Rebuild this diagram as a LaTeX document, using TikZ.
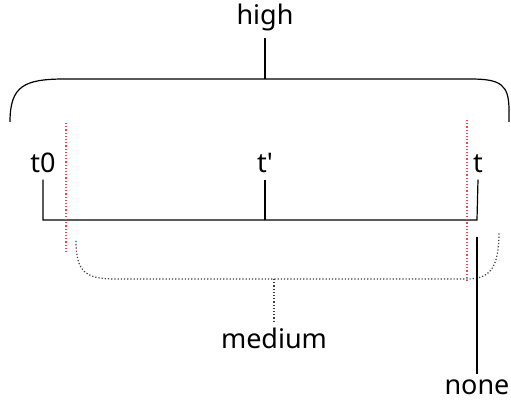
\documentclass[tikz,border=0pt]{standalone}
\usepackage{fontspec}
\setmainfont{Noto Sans}
\usetikzlibrary{positioning,calc}
\definecolor{cutred}{RGB}{240,70,70}
\definecolor{grpgray}{RGB}{60,60,60}

\begin{document}
\begin{tikzpicture}[x=0.5pt, y=-0.5pt, every node/.style={font=\fontsize{13.5}{16}\selectfont, inner sep=3pt}]
\tikzset{lbl/.style={anchor=base},
         cut/.style={cutred, densely dotted, line width=0.6pt},
         grp/.style={grpgray, densely dotted, line width=0.6pt},
         solid line/.style={line width=0.6pt}}
\useasboundingbox (0,0) rectangle (511,405);
% labels
\node[lbl] (high) at (265,25) {high};
\node[lbl] (t0) at (43,173) {t0};
\node[lbl] (tp) at (265,173) {t\textquotesingle};
\node[lbl] (t) at (478,173) {t};
\node[lbl] (medium) at (274,349) {medium};
\node[lbl] (none) at (477,395) {none};
% points on the braces
\coordinate (hightop) at (265,79);
\coordinate (t0b) at (43,220);
\coordinate (tpb) at (265,220);
\coordinate (tb) at (477,220);
\coordinate (medtop) at (274,279);
\coordinate (nonetop) at (477,237);
% high brace
\draw[solid line] (10,122) .. controls (10,86) and (24,79) .. (65,79)
  -- (470,79) .. controls (500,79) and (509,84) .. (509,110) -- (509,122);
\draw[solid line] (high.south) -- (hightop);
% time line
\draw[solid line] (t0.south) -- (t0b) -- (tb) -- (t.south);
\draw[solid line] (tp.south) -- (tpb);
% medium brace
\draw[grp] (76,241) .. controls (76,272) and (86,279) .. (115,279)
  -- (467,279) .. controls (490,279) and (499,268) .. (499,232);
\draw[grp] (medtop) -- (medium.north);
% none
\draw[solid line] (nonetop) -- (none.north);
% cut lines
\draw[cut] (66,123) -- (66,252);
\draw[cut] (467,120) -- (467,283);
\end{tikzpicture}
\end{document}
